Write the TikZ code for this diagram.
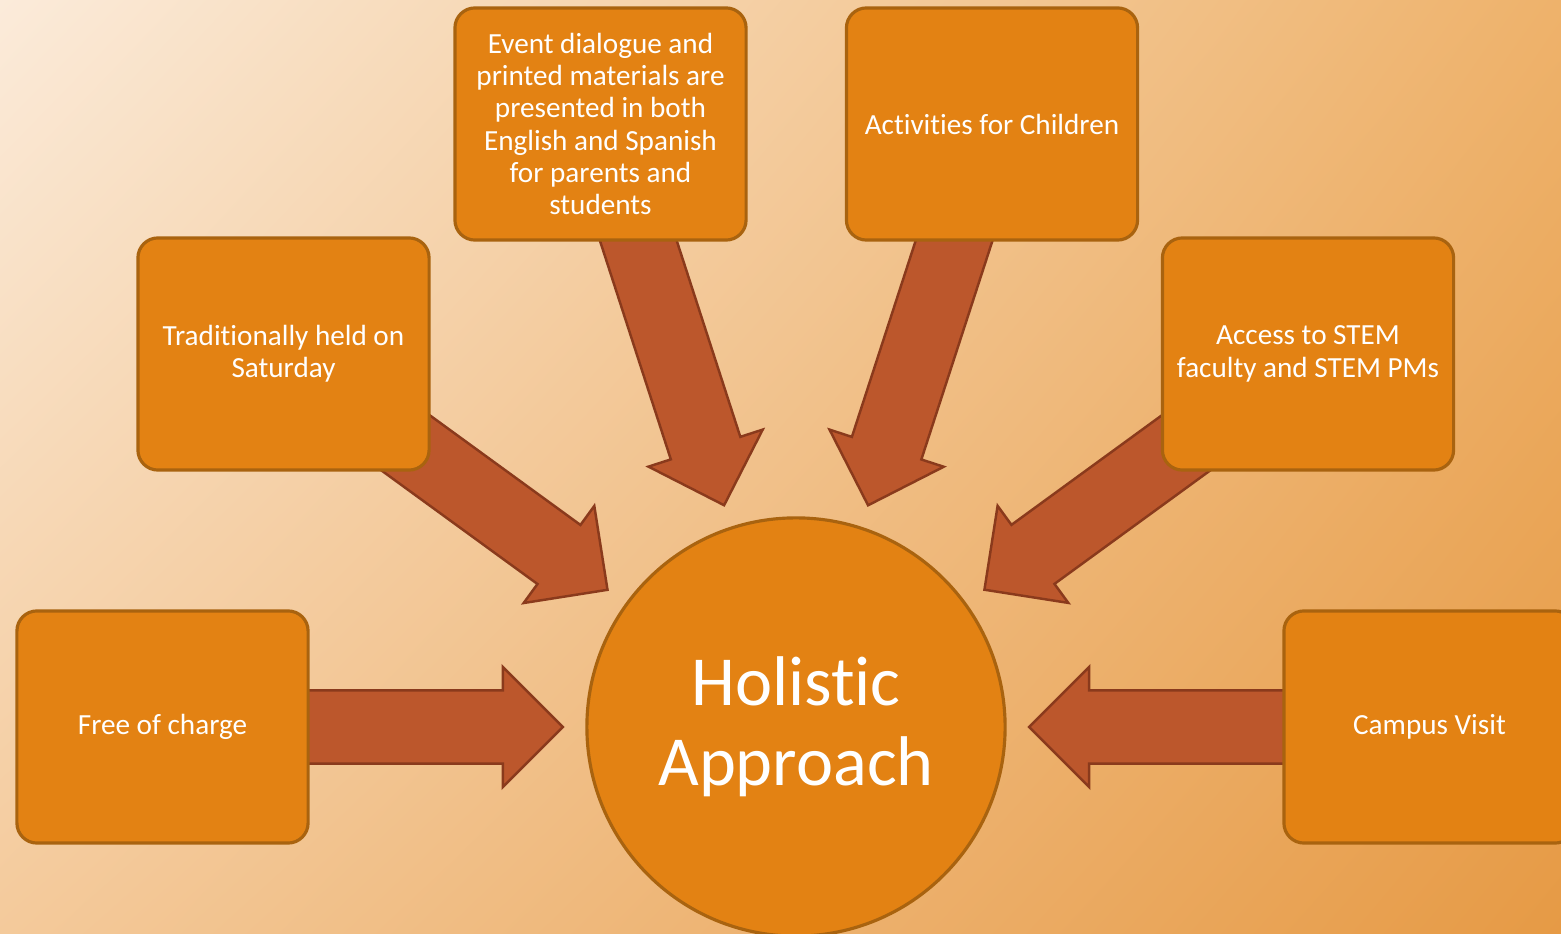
\documentclass[tikz,border=0pt]{standalone}
\usepackage{fontspec}
\setmainfont{Carlito}[Ligatures=NoCommon]
\usetikzlibrary{calc,shadings}
\definecolor{boxfill}{HTML}{E38213}
\definecolor{boxline}{HTML}{A9630F}
\definecolor{arrowfill}{HTML}{BC572C}
\definecolor{arrowline}{HTML}{8A3A1C}
\definecolor{bgA}{HTML}{FBEBDA}
\definecolor{bgB}{HTML}{EEB26B}
\definecolor{bgC}{HTML}{F4CA9B}
\definecolor{bgD}{HTML}{E69A45}
\pgfdeclarelayer{back}
\pgfdeclarelayer{arrows}
\pgfsetlayers{back,arrows,main}
% block arrow from a box (#1) to a tip coordinate (#2)
\newcommand{\fatarrow}[2]{%
  \coordinate (#2 base) at ($(#2)!0.6cm!(#1.center)$);
  \draw [fat arrow] ($(#1.center)!0.365cm!90:(#2)$) -- ($(#2 base)!0.365cm!90:(#2)$)
    -- ($(#2 base)!0.6cm!90:(#2)$) -- (#2) -- ($(#2 base)!0.6cm!-90:(#2)$)
    -- ($(#2 base)!0.365cm!-90:(#2)$) -- ($(#1.center)!0.365cm!-90:(#2)$) -- cycle;}
\begin{document}
\begin{tikzpicture}[x=0.01cm, y=-0.01cm,
  main node/.style={rectangle, rounded corners=0.2cm, draw=boxline, line width=0.9pt, fill=boxfill, text=white, minimum width=2.91cm, minimum height=2.32cm, align=center, font=\fontsize{8.3}{9.2}\selectfont},
  hub node/.style={circle, draw=boxline, line width=0.9pt, fill=boxfill, text=white, minimum size=4.18cm, align=center, font=\fontsize{20}{22.8}\selectfont},
  fat arrow/.style={draw=arrowline, fill=arrowfill, line width=0.7pt, line join=miter}]
\useasboundingbox (0,0) rectangle (1561,934);
\begin{pgfonlayer}{back}
\shade [upper left=bgA, upper right=bgB, lower left=bgC, lower right=bgD] (0,0) rectangle (1561,934);
\end{pgfonlayer}

\node [hub node] (hub) at (796,727) {Holistic\\Approach};
\node [main node] (free) at (162.5,727) {Free of charge};
\node [main node] (sat) at (283.5,354) {Traditionally held on\\Saturday};
\node [main node] (lang) at (600.5,124) {Event dialogue and\\printed materials are\\presented in both\\English and Spanish\\for parents and\\students};
\node [main node] (kids) at (992,124) {Activities for Children};
\node [main node] (stem) at (1308,354) {Access to STEM\\faculty and STEM PMs};
\node [main node] (visit) at (1429.5,727) {Campus Visit};

\begin{pgfonlayer}{arrows}
\foreach \from in {free,sat,lang,kids,stem,visit} {
  \coordinate (\from tip) at ($(hub.center)!2.33cm!(\from.center)$);
  \fatarrow{\from}{\from tip}
}
\end{pgfonlayer}
\end{tikzpicture}
\end{document}
